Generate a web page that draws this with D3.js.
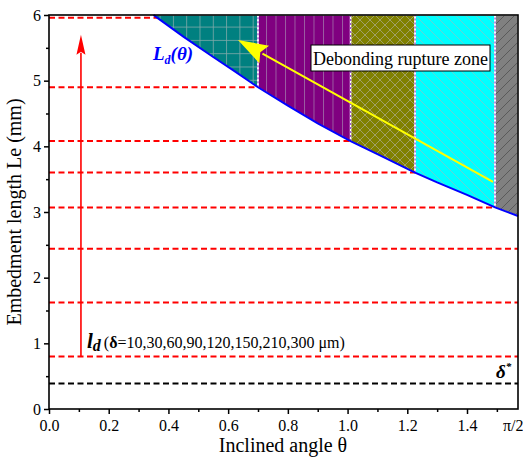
<!DOCTYPE html>
<html>
<head>
<meta charset="utf-8">
<script src="https://cdn.jsdelivr.net/npm/d3@7"></script>
<style>
  body { margin: 0; background: #fff; }
  svg { display: block; }
  svg text { font-family: "Liberation Serif", "Times New Roman", serif; }
</style>
</head>
<body>
<div id="chart"></div>
<script>
// critical lengths l_d for delta = 10,30,60,90,120,150,210,300 um
var ldValues = [0.8, 1.62, 2.44, 3.07, 3.6, 4.08, 4.9, 5.96];
// angle where each l_d line meets the L_d(theta) curve
var ldEnds = [Math.PI / 2, Math.PI / 2, Math.PI / 2, 1.494, 1.226, 1.01, 0.70, 0.362];
var deltaStar = 0.39;

// L_d(theta) curve
var curveTheta = [0.35, 0.362, 0.45, 0.55, 0.62, 0.70, 0.80, 0.90, 1.01, 1.10, 1.226, 1.30, 1.40, 1.494, Math.PI / 2];
var curveLe    = [6.0, 5.96, 5.67, 5.36, 5.15, 4.90, 4.62, 4.35, 4.08, 3.88, 3.60, 3.45, 3.26, 3.07, 2.94];

// rupture zones (theta from / to)
var zoneStart = [0.35, 0.70, 1.01, 1.226, 1.494];
var zoneEnd   = [0.70, 1.01, 1.226, 1.494, Math.PI / 2];
var zoneFill  = ["#008080", "#800080", "#808000", "#00ffff", "#808080"];

var xTicks = [0, 0.2, 0.4, 0.6, 0.8, 1.0, 1.2, 1.4, Math.PI / 2];
var xTickLabels = ["0.0", "0.2", "0.4", "0.6", "0.8", "1.0", "1.2", "1.4", "π/2"];
var xMinor = [0.1, 0.3, 0.5, 0.7, 0.9, 1.1, 1.3, 1.5];
var yTicks = [0, 1, 2, 3, 4, 5, 6];
var yMinor = [0.5, 1.5, 2.5, 3.5, 4.5, 5.5];

// yellow arrow (tail -> head) and red arrow
var yellowArrow = [[1.487, 3.46], [0.633, 5.62]];
var redArrow = [[0.107, 0.8], [0.107, 5.70]];

var W = 523, H = 459;
var margin = {left: 49, right: 5, top: 15, bottom: 50};

var svg = d3.select("#chart").append("svg")
	.attr("width", W)
	.attr("height", H)
	.attr("font-family", "Liberation Serif");

var x = d3.scaleLinear().domain([0, Math.PI / 2]).range([margin.left, W - margin.right]);
var y = d3.scaleLinear().domain([0, 6]).range([H - margin.bottom, margin.top]);

var defs = svg.append("defs");

// hatch patterns, one per zone
function pattern(id, size, bg, color, paths, sw) {
	var p = defs.append("pattern").attr("id", id)
		.attr("patternUnits", "userSpaceOnUse")
		.attr("width", size).attr("height", size);
	p.append("rect").attr("width", size).attr("height", size).attr("fill", bg);
	paths.forEach(function(d) {
		p.append("path").attr("d", d).attr("stroke", color)
			.attr("stroke-width", sw).attr("fill", "none");
	});
}
pattern("pat0", 13.3, zoneFill[0], "#80a8a8", ["M0,0.5H13.3", "M0.5,0V13.3"], 0.8);
pattern("pat1", 9.5, zoneFill[1], "#a070a8", ["M0.5,0V9.5"], 0.8);
pattern("pat2", 10, zoneFill[2], "#a8a880", ["M0,0L10,10", "M10,0L0,10"], 0.8);
pattern("pat3", 10, zoneFill[3], "#80c8c8", ["M0,0L10,10", "M-5,5L0,10", "M5,-5L15,5"], 0.8);
pattern("pat4", 10, zoneFill[4], "#505050", ["M0,10L10,0", "M-5,5L5,-5", "M5,15L15,5"], 0.8);

var curvePts = curveTheta.map(function(t, i) { return [t, curveLe[i]]; });

var area = d3.area()
	.x(function(d) { return x(d[0]); })
	.y0(function(d) { return y(d[1]); })
	.y1(y(6));

var zones = svg.append("g");
zoneStart.forEach(function(a, i) {
	var b = zoneEnd[i];
	var pts = curvePts.filter(function(d) { return d[0] >= a - 1e-6 && d[0] <= b + 1e-6; });
	zones.append("path")
		.attr("d", area(pts))
		.attr("fill", "url(#pat" + i + ")")
		.attr("stroke", "#fff")
		.attr("stroke-width", 1);
});

// zone boundaries
zoneEnd.slice(0, 4).forEach(function(t) {
	var le = curveLe[curveTheta.indexOf(t)];
	zones.append("line")
		.attr("x1", x(t)).attr("x2", x(t))
		.attr("y1", y(le)).attr("y2", y(6))
		.attr("stroke", "#fff").attr("stroke-width", 1.6);
	zones.append("line")
		.attr("x1", x(t)).attr("x2", x(t))
		.attr("y1", y(le)).attr("y2", y(6))
		.attr("stroke", "#9b59d0").attr("stroke-width", 1.4)
		.attr("stroke-dasharray", "2,2");
});

// l_d dashed lines
svg.append("g").selectAll("line")
	.data(ldValues)
	.enter().append("line")
	.attr("x1", x(0))
	.attr("x2", function(d, i) { return x(ldEnds[i]); })
	.attr("y1", function(d) { return y(d); })
	.attr("y2", function(d) { return y(d); })
	.attr("stroke", "#ff0000")
	.attr("stroke-width", 2)
	.attr("stroke-dasharray", "6,3.5");

// delta* line
svg.append("line")
	.attr("x1", x(0)).attr("x2", x(Math.PI / 2))
	.attr("y1", y(deltaStar)).attr("y2", y(deltaStar))
	.attr("stroke", "#000").attr("stroke-width", 2)
	.attr("stroke-dasharray", "6,3.5");

// L_d(theta) curve
var line = d3.line().x(function(d) { return x(d[0]); }).y(function(d) { return y(d[1]); });
svg.append("path")
	.attr("d", line(curvePts))
	.attr("fill", "none")
	.attr("stroke", "#0000ff")
	.attr("stroke-width", 2);

// arrows
function arrow(pts, color, sw, headLen, headW) {
	var x0 = x(pts[0][0]), y0 = y(pts[0][1]), x1 = x(pts[1][0]), y1 = y(pts[1][1]);
	var dx = x1 - x0, dy = y1 - y0, len = Math.sqrt(dx * dx + dy * dy);
	var ux = dx / len, uy = dy / len;
	var bx = x1 - ux * headLen, by = y1 - uy * headLen;
	svg.append("line")
		.attr("x1", x0).attr("y1", y0).attr("x2", bx + ux * 2).attr("y2", by + uy * 2)
		.attr("stroke", color).attr("stroke-width", sw);
	svg.append("path")
		.attr("d", "M" + x1 + "," + y1 +
			"L" + (bx - uy * headW / 2) + "," + (by + ux * headW / 2) +
			"L" + (bx + ux * headLen * 0.15) + "," + (by + uy * headLen * 0.15) +
			"L" + (bx + uy * headW / 2) + "," + (by - ux * headW / 2) + "Z")
		.attr("fill", color);
}
arrow(redArrow, "#ff0000", 1.6, 20, 9);
arrow(yellowArrow, "#ffff00", 2, 30, 20);

// label box
var box = svg.append("g");
box.append("rect")
	.attr("x", 311).attr("y", 45).attr("width", 179).attr("height", 26)
	.attr("fill", "#fff").attr("stroke", "#000").attr("stroke-width", 1);
box.append("text")
	.attr("x", 400.5).attr("y", 64.5)
	.attr("text-anchor", "middle")
	.attr("font-size", 18)
	.text("Debonding rupture zone");

// L_d(theta) label
var ldLab = svg.append("text")
	.attr("x", 153).attr("y", 60)
	.attr("fill", "#0000ff")
	.attr("font-weight", "bold").attr("font-style", "italic")
	.attr("font-size", 19);
ldLab.append("tspan").text("L");
ldLab.append("tspan").attr("font-size", 12).attr("dy", 4).text("d");
ldLab.append("tspan").attr("dy", -4).text("(θ)");

// l_d label
var lLab = svg.append("text")
	.attr("x", 87).attr("y", 348)
	.attr("font-size", 16);
lLab.append("tspan").attr("font-size", 21).attr("font-weight", "bold").attr("font-style", "italic").text("l");
lLab.append("tspan").attr("font-size", 16).attr("font-weight", "bold").attr("font-style", "italic").attr("dy", 3).text("d");
lLab.append("tspan").attr("dy", -3).attr("dx", 3).text("(");
lLab.append("tspan").attr("font-weight", "bold").text("δ");
lLab.append("tspan").text("=10,30,60,90,120,150,210,300 μm)");

// delta* label
var dLab = svg.append("text")
	.attr("x", 496).attr("y", 378)
	.attr("font-size", 19).attr("font-weight", "bold").attr("font-style", "italic");
dLab.append("tspan").text("δ");
dLab.append("tspan").attr("font-size", 11).attr("dy", -8).text("*");

// axes
var xAxis = d3.axisBottom(x).tickValues(xTicks)
	.tickFormat(function(d, i) { return xTickLabels[i]; })
	.tickSize(5).tickPadding(6);
var gx = svg.append("g").attr("transform", "translate(0," + y(0) + ")").call(xAxis);
var piTick = gx.selectAll(".tick").filter(function(d) { return d > 1.5; });
piTick.select("line").remove();
piTick.select("text").attr("text-anchor", "end").attr("x", 5);
svg.append("g").attr("transform", "translate(0," + y(0) + ")")
	.call(d3.axisBottom(x).tickValues(xMinor).tickSize(3).tickFormat(""));

var yAxis = d3.axisLeft(y).tickValues(yTicks).tickFormat(d3.format("d")).tickSize(5).tickPadding(3);
svg.append("g").attr("transform", "translate(" + x(0) + ",0)").call(yAxis);
svg.append("g").attr("transform", "translate(" + x(0) + ",0)")
	.call(d3.axisLeft(y).tickValues(yMinor).tickSize(3).tickFormat(""));

svg.selectAll("g").attr("font-family", null);
svg.selectAll(".domain").remove();
svg.selectAll(".tick line").attr("stroke", "#000").attr("stroke-width", 1.5);
svg.selectAll(".tick text").attr("font-size", 16).attr("fill", "#000");

// frame
svg.append("rect")
	.attr("x", x(0)).attr("y", y(6))
	.attr("width", x(Math.PI / 2) - x(0)).attr("height", y(0) - y(6))
	.attr("fill", "none").attr("stroke", "#000").attr("stroke-width", 1.6);

// axis titles
svg.append("text")
	.attr("x", 283).attr("y", 452)
	.attr("text-anchor", "middle").attr("font-size", 20)
	.text("Inclined angle θ");
svg.append("text")
	.attr("transform", "translate(21," + ((y(0) + y(6)) / 2) + ") rotate(-90)")
	.attr("text-anchor", "middle").attr("font-size", 20)
	.text("Embedment length Le (mm)");
</script>
</body>
</html>
